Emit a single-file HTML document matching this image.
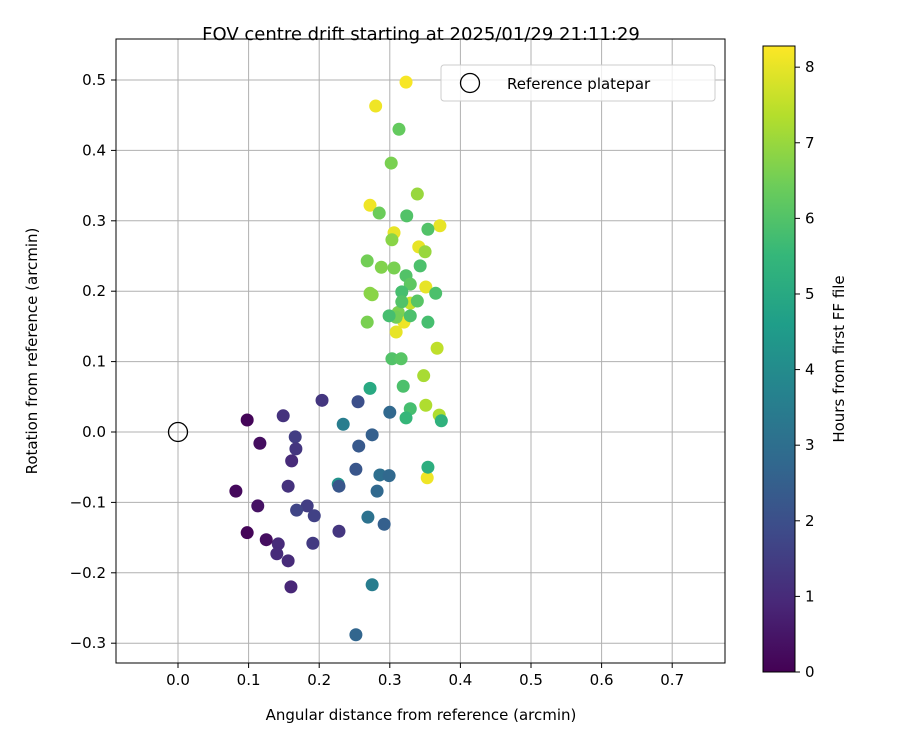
<!DOCTYPE html>
<html><head><meta charset="utf-8"><style>
body{margin:0;background:#fff;font-family:"Liberation Sans","DejaVu Sans",sans-serif}
svg text{font-family:"DejaVu Sans","Liberation Sans",sans-serif}
</style></head><body>
<svg id="c" width="900" height="750"></svg>
<script>
const xs=[.323,.280,.272,.371,.306,.341,.351,.320,.309,.353,
.329,.367,.348,.370,.351,
.313,.302,.339,.285,.303,.288,.306,.268,.272,.275,.350,.312,.268,.309,
.324,.354,.343,.323,.329,.365,.317,.339,.317,.299,.329,.354,.303,.316,.319,.329,.323,.272,.354,.373,
.227,.234,
.300,.275,.256,.252,.286,.299,.282,.292,.269,.275,.252,.228,
.255,.204,.149,.166,.167,.161,.156,.183,.168,.193,.191,.228,.142,.140,.156,.160,
.098,.116,.082,.113,.098,.125];
const ys=[.497,.463,.322,.293,.283,.263,.206,.156,.142,-.065,
.183,.119,.080,.024,.038,
.430,.382,.338,.311,.273,.234,.233,.243,.197,.195,.256,.170,.156,.163,
.307,.288,.236,.222,.210,.197,.199,.186,.185,.165,.165,.156,.104,.104,.065,.033,.020,.062,-.050,.016,
-.074,.011,
.028,-.004,-.020,-.053,-.061,-.062,-.084,-.131,-.121,-.217,-.288,-.077,
.043,.045,.023,-.007,-.024,-.041,-.077,-.105,-.111,-.119,-.158,-.141,-.159,-.173,-.183,-.220,
.017,-.016,-.084,-.105,-.143,-.153];
const hours=[8.2,8.1,8.1,8,8,8,8,8.1,8,8.1,
7.6,7.5,7.2,7.3,7.3,
6.3,6.6,7,6.4,6.8,6.7,6.6,6.5,6.8,6.8,7,6.6,6.6,6.5,
6,6,5.9,6,6.2,5.9,5.8,6.1,6,5.8,5.9,5.8,6,6.1,5.9,5.8,5.5,5,5.2,5.3,
4.2,3.5,
2.8,2.5,2.3,2.2,3,2.8,2.8,2.5,3.1,3.5,2.7,2.2,
2,1.3,1.2,1.5,1.3,1,1.2,1.5,1.7,1.6,1.4,1.3,1,1,1,0.9,
0.1,0.3,0.2,0.4,0.1,0.3];
const xTicks=[0,0.1,0.2,0.3,0.4,0.5,0.6,0.7];
const yTicks=[-0.3,-0.2,-0.1,0,0.1,0.2,0.3,0.4,0.5];
const cTicks=[0,1,2,3,4,5,6,7,8];
const X=v=>178+v*706, Y=v=>432-v*704;
const HMAX=8.28, C=v=>672-v/HMAX*626;
const vir=[[68,1,84],[72,40,120],[62,74,137],[49,104,142],[38,130,142],[31,158,137],[53,183,121],[109,205,89],[180,222,44],[253,231,37]];
function col(t){t=Math.max(0,Math.min(1,t))*9;const i=Math.min(8,Math.floor(t)),f=t-i,a=vir[i],b=vir[i+1];
return `rgb(${a.map((v,k)=>Math.round(v+(b[k]-v)*f)).join(',')})`;}
const s=document.getElementById('c');const NS='http://www.w3.org/2000/svg';
function el(t,at,p){const e=document.createElementNS(NS,t);for(const k in at)e.setAttribute(k,at[k]);(p||s).appendChild(e);return e;}
function tx(x,y,str,anchor,size,extra){const e=el('text',Object.assign({x,y,'text-anchor':anchor,'font-size':size,fill:'#000'},extra||{}));e.textContent=str;return e;}
xTicks.forEach(v=>{const l=el('line',{x1:X(v),x2:X(v),y1:39,y2:663,stroke:'#b0b0b0','stroke-width':1});
el('line',{x1:X(v),x2:X(v),y1:663,y2:668,stroke:'#000'});
const t=tx(X(v),685,v.toFixed(1),'middle',15);});
yTicks.forEach(v=>{const l=el('line',{x1:116,x2:725,y1:Y(v),y2:Y(v),stroke:'#b0b0b0','stroke-width':1});
el('line',{x1:111,x2:116,y1:Y(v),y2:Y(v),stroke:'#000'});
const t=tx(106,Y(v)+5,(v<0?'\u2212':'')+Math.abs(v).toFixed(1),'end',15);});
xs.forEach((x,i)=>{const c=el('circle',{cx:X(x),cy:Y(ys[i]),r:6.5,fill:col(hours[i]/HMAX)});
});
const ref=el('circle',{cx:X(0),cy:Y(0),r:9.5,fill:'none',stroke:'#000','stroke-width':1.3});

el('rect',{x:116,y:39,width:609,height:624,fill:'none',stroke:'#000','stroke-width':1});
const lg=el('g',{});
el('rect',{x:441,y:65,width:274,height:36,rx:3,fill:'#fff','fill-opacity':0.8,stroke:'#ccc'},lg);
el('circle',{cx:470,cy:83,r:9.5,fill:'none',stroke:'#000','stroke-width':1.3},lg);
tx(507,89,'Reference platepar','start',15);
const tt=tx(421,40,'FOV centre drift starting at 2025/01/29 21:11:29','middle',18);
const xt=tx(421,720,'Angular distance from reference (arcmin)','middle',15);
const yt=tx(0,0,'Rotation from reference (arcmin)','middle',15,{transform:'translate(37,351) rotate(-90)'});
const defs=el('defs',{});const g=el('linearGradient',{id:'vg',x1:0,y1:1,x2:0,y2:0},defs);
vir.forEach((c,i)=>el('stop',{offset:i/9,'stop-color':`rgb(${c})`},g));
const cb=el('rect',{x:763,y:46,width:32,height:626,fill:'url(#vg)',stroke:'#000'});
cTicks.forEach(v=>{el('line',{x1:795,x2:800,y1:C(v),y2:C(v),stroke:'#000'});
const t=tx(805,C(v)+5,String(v),'start',15);});
const ct=tx(0,0,'Hours from first FF file','middle',15,{transform:'translate(844,359) rotate(-90)'});
</script>
</body></html>
